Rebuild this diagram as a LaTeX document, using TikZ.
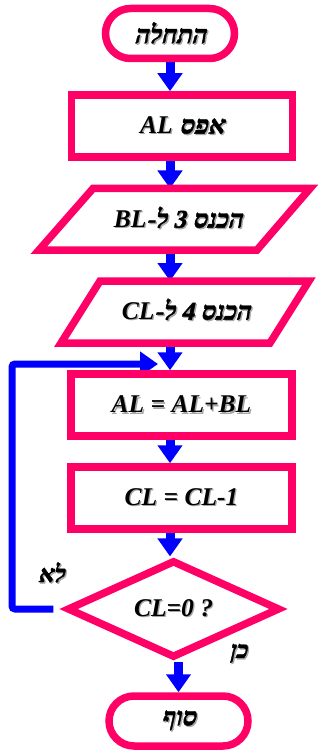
\documentclass[tikz,border=0pt]{standalone}
\usepackage{fontspec}
\setmainfont{Liberation Serif}
\newfontfamily\hebfont[Script=Hebrew, FakeSlant=0.22, FakeBold=1.6]{Liberation Serif}
\TeXXeTstate=1
\usetikzlibrary{arrows.meta,shapes.misc,shapes.geometric,backgrounds}
\definecolor{flowpink}{RGB}{255,0,102}
\definecolor{flowblue}{RGB}{0,0,255}
% text with a soft grey drop shadow
\newcommand\shadowed[1]{\makebox[0pt][l]{\hspace{1.3pt}\raisebox{-1.3pt}{\color{black!35}#1}}#1}
% Hebrew runs right to left; Latin pieces inside them left to right
\newcommand\rtl[1]{{\hebfont\bfseries\upshape\beginR#1\endR}}
\newcommand\ltr[1]{{\normalfont\bfseries\itshape\beginL#1\endL}}
\begin{document}
\begin{tikzpicture}[x=1pt,y=-1pt,
  txt/.style={font=\bfseries\itshape\fontsize{25.5}{29}\selectfont, inner sep=0pt, align=center},
  shp/.style={txt, draw=flowpink, line width=7.5pt, fill=white},
  boxshape/.style={shp, rectangle, minimum width=221pt, minimum height=62pt},
  termshape/.style={shp, rounded rectangle, minimum height=50pt},
  decshape/.style={shp, diamond, minimum width=213pt, minimum height=97pt},
  arr/.style={draw=flowblue, line width=9pt, -{Triangle[width=24pt,length=18pt]}},
  lbl/.style={font=\fontsize{24}{28}\selectfont, inner sep=0pt}]
\useasboundingbox (0,0) rectangle (329,751);

% terminals, process boxes and decision
\node[termshape, minimum width=129pt] (start) at (170,33.5) {\shadowed{\rtl{התחלה}}};
\node[boxshape] (zero) at (182,126) {\shadowed{\rtl{אפס \ltr{AL}}}};

% input parallelograms
\draw[shp] (93,188.5) -- (310,188.5) -- (257,250) -- (39,250) -- cycle;
\coordinate (in1top) at (175,188.5);
\coordinate (in1bot) at (175,250);
\node[txt] (in1) at (178,218) {\shadowed{\rtl{הכנס 3 ל-\ltr{BL}}}};

\draw[shp] (100,281) -- (309,281) -- (270,343) -- (61,343) -- cycle;
\coordinate (in2top) at (185,281);
\coordinate (in2bot) at (185,343);
\node[txt] (in2) at (186,310) {\shadowed{\rtl{הכנס 4 ל-\ltr{CL}}}};

\node[boxshape] (add) at (181.5,405) {\shadowed{AL = AL+BL}};
\node[boxshape] (dec) at (181.5,498) {\shadowed{CL = CL-1}};
\node[decshape] (test) at (173.5,609) {\shadowed{CL=0 ?}};
\node[termshape, minimum width=139pt] (stop) at (178.5,721) {\shadowed{\rtl{סוף}}};

% branch labels
\node[lbl] (no) at (51,573) {\shadowed{\rtl{לא}}};
\node[lbl] (yes) at (238,654) {\shadowed{\rtl{כן}}};

% connectors, kept behind the shapes
\coordinate (loopin) at (158,364);
\coordinate (loopcorner) at (12,364);
\begin{scope}[on background layer]
  \draw[arr] (start.south) -- (start.south |- zero.north);
  \draw[arr] (zero.south -| start) -- (in1top -| start);
  \draw[arr] (in1bot -| start) -- (in2top -| start);
  \draw[arr] (in2bot -| start) -- (add.north -| start);
  \draw[arr] (add.south -| start) -- (dec.north -| start);
  \draw[arr] (dec.south -| start) -- (test.north -| start);
  \draw[arr] (stop.north |- test.south) -- (stop.north);
  \draw[arr, line width=7pt, rounded corners=3pt]
    ([xshift=-10pt]test.west) -| (loopcorner) -- (loopin);
\end{scope}
\end{tikzpicture}
\end{document}
